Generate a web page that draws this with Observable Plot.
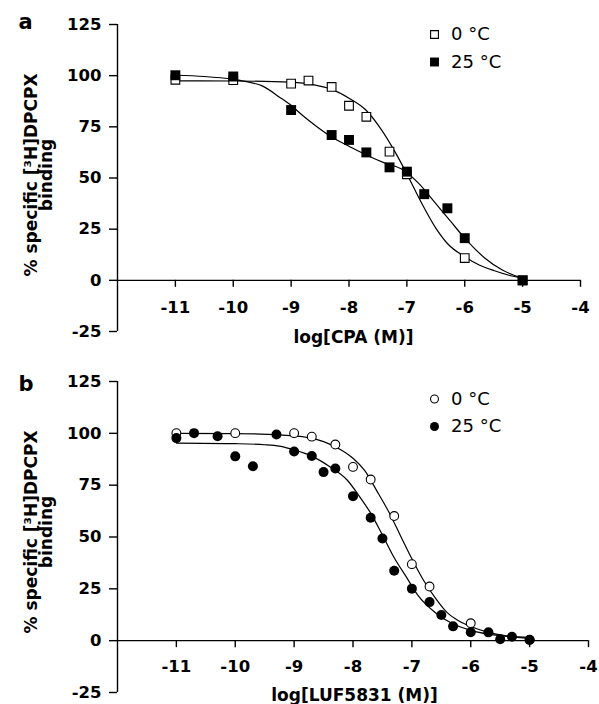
<!DOCTYPE html>
<html><head><meta charset="utf-8">
<script src="https://cdn.jsdelivr.net/npm/d3@7"></script>
<script src="https://cdn.jsdelivr.net/npm/@observablehq/plot@0.6"></script>
<style>
html,body{margin:0;padding:0;background:#fff;}
#fig{position:relative;width:599px;height:704px;overflow:hidden;}
#fig svg{position:absolute;left:0;}
</style></head><body><div id="fig"></div>
<script>
// ticks
const xTicks = [-11, -10, -9, -8, -7, -6, -5, -4];
const yTicks = [-25, 0, 25, 50, 75, 100, 125];
const legendLabels = ["0 \u00B0C", "25 \u00B0C"];
const yLabel = "% specific [\u00B3H]DPCPX\nbinding";

// panel a: CPA
const cpa0X = [-11, -10, -9, -8.7, -8.3, -8, -7.7, -7.3, -7, -6, -5];
const cpa0Y = [98, 97.8, 96.1, 97.6, 94.5, 85.3, 79.9, 62.9, 51.8, 10.9, 0];
const cpa25X = [-11, -10, -9, -8.3, -8, -7.7, -7.3, -7, -6.7, -6.3, -6, -5];
const cpa25Y = [100.2, 99.6, 83.2, 71, 68.6, 62.5, 55.2, 53.1, 42.1, 35.2, 20.6, 0];
const cpa0FitX = [-11, -10, -9, -8.6, -8.3, -8, -7.7, -7.45, -7.2, -7, -6.75, -6.5, -6.3, -6, -5.75, -5.5, -5.25, -5];
const cpa0FitY = [97.5, 97.4, 96.8, 95.5, 93.3, 89, 83, 74, 62.5, 52, 38, 25.5, 18, 11.5, 7.5, 4.8, 2.6, 1];
const cpa25FitX = [-11, -10.5, -10, -9.75, -9.5, -9.2, -9, -8.8, -8.6, -8.3, -8, -7.7, -7.4, -7.1, -6.8, -6.5, -6.25, -5.95, -5.65, -5.35, -5];
const cpa25FitY = [100.2, 99.6, 98.2, 97, 95, 89.5, 85.5, 80.5, 76, 70, 65.5, 61.2, 57.5, 54.5, 47.5, 37.5, 29, 19, 10.8, 5, 1];

// panel b: LUF5831
const luf0X = [-11, -10, -9, -8.7, -8.3, -8, -7.7, -7.3, -7, -6.7, -6, -5];
const luf0Y = [100.1, 100.1, 100.1, 98.4, 94.6, 83.8, 77.7, 60.1, 36.9, 26.1, 8.4, 0.5];
const luf25X = [-11, -10.7, -10.3, -10, -9.7, -9.3, -9, -8.7, -8.5, -8.3, -8, -7.7, -7.5, -7.3, -7, -6.7, -6.5, -6.3, -6, -5.7, -5.5, -5.3, -5];
const luf25Y = [97.7, 100.1, 98.6, 88.9, 84.1, 99.4, 91.2, 89.1, 81.3, 83, 69.7, 59.3, 49.3, 33.7, 25.1, 18.6, 12.4, 6.9, 4.1, 4.0, 0.7, 1.9, 0.3];
const luf0FitX = [-11, -10, -9, -8.5, -8.2, -8, -7.8, -7.6, -7.4, -7.2, -7, -6.8, -6.6, -6.4, -6.2, -6, -5.7, -5.4, -5];
const luf0FitY = [100, 99.9, 98.8, 96, 92, 88, 82, 72.5, 62.5, 51, 39.5, 29, 20.5, 13.5, 9.5, 6.8, 4, 2.3, 1];
const luf25FitX = [-11, -10, -9.5, -9.25, -9, -8.7, -8.4, -8.1, -7.9, -7.7, -7.5, -7.3, -7.1, -6.9, -6.6, -6.3, -6, -5.5, -5];
const luf25FitY = [95.3, 95, 94.5, 93.8, 92, 89, 84, 77.5, 70, 61.5, 51, 40, 31, 22, 13.5, 8, 5, 2.4, 1.5];

const pts = (xs, ys) => xs.map((x, i) => ({x, y: ys[i]}));
const FONT = "DejaVu Sans";

function panel(opts) {
  const {letter, xLabel, s0, s25, f0, f25, sym, margins, tickDy, xLabelDx, xLabelDy, yLabelDy, letterDy, legendDy, r0, r25} = opts;
  return Plot.plot({
    width: 599, height: 352,
    marginLeft: margins[0], marginRight: margins[1], marginTop: margins[2], marginBottom: margins[3],
    x: {domain: [-12, -4], axis: null},
    y: {domain: [-25, 125]},
    style: {fontFamily: FONT, fontSize: "16.5px", fontWeight: "bold", color: "black", background: "white", overflow: "visible"},
    marks: [
      Plot.ruleX([-12], {stroke: "black", strokeWidth: 1.4}),
      Plot.ruleY([0], {stroke: "black", strokeWidth: 1.4}),
      Plot.axisY({ticks: yTicks, tickSize: 8, tickPadding: 8, tickFormat: d => String(d), label: null, fontSize: 16.5, fontWeight: "bold", strokeWidth: 1.4}),
      Plot.ruleX(xTicks, {x: d => d, y1: 0, y2: 0, insetBottom: -7, stroke: "black", strokeWidth: 1.4}),
      Plot.text(xTicks, {x: d => d, y: 0, dy: tickDy, text: d => String(d), fontSize: 16.5, fontWeight: "bold", lineAnchor: "middle"}),
      Plot.text([xLabel], {frameAnchor: "bottom", textAnchor: "middle", dx: xLabelDx, dy: xLabelDy, fontSize: 17, fontWeight: "bold", lineAnchor: "middle"}),
      Plot.text([yLabel], {frameAnchor: "left", textAnchor: "middle", rotate: -90, dx: -78, dy: yLabelDy, fontSize: 17, fontWeight: "bold", lineAnchor: "middle", lineHeight: 0.93}),
      Plot.text([letter], {frameAnchor: "top-left", dx: -99, dy: letterDy, fontSize: 21, fontWeight: "bold", textAnchor: "start", lineAnchor: "middle"}),
      Plot.line(f0, {x: "x", y: "y", curve: "monotone-x", stroke: "black", strokeWidth: 1.2}),
      Plot.line(f25, {x: "x", y: "y", curve: "monotone-x", stroke: "black", strokeWidth: 1.2}),
      Plot.dot(s0, {x: "x", y: "y", symbol: sym, r: r0, fill: "white", stroke: "black", strokeWidth: 1.1}),
      Plot.dot(s25, {x: "x", y: "y", symbol: sym, r: r25, fill: "black", stroke: "black", strokeWidth: 0}),
      // legend
      Plot.dot([legendLabels[0]], {frameAnchor: "top-left", dx: 317, dy: legendDy[0], symbol: sym, r: r0 * 0.9, fill: "white", stroke: "black", strokeWidth: 1.1}),
      Plot.dot([legendLabels[1]], {frameAnchor: "top-left", dx: 317, dy: legendDy[1], symbol: sym, r: r25 * 0.9, fill: "black", strokeWidth: 0}),
      Plot.text([legendLabels[0]], {frameAnchor: "top-left", dx: 333.5, dy: legendDy[0], fontSize: 18, fontWeight: "normal", textAnchor: "start", lineAnchor: "middle"}),
      Plot.text([legendLabels[1]], {frameAnchor: "top-left", dx: 333.5, dy: legendDy[1], fontSize: 18, fontWeight: "normal", textAnchor: "start", lineAnchor: "middle"})
    ]
  });
}

const fig = document.getElementById("fig");
const a = panel({
  letter: "a", xLabel: "log[CPA (M)]",
  s0: pts(cpa0X, cpa0Y), s25: pts(cpa25X, cpa25Y), f0: pts(cpa0FitX, cpa0FitY), f25: pts(cpa25FitX, cpa25FitY),
  sym: "square", margins: [117, 19, 24, 21], tickDy: 27, xLabelDx: 4.5, xLabelDy: 6, yLabelDy: -3, letterDy: -2.7,
  legendDy: [10, 37.5], r0: 4.9, r25: 5.6
});
a.style.top = "0px";
fig.appendChild(a);
const b = panel({
  letter: "b", xLabel: "log[LUF5831 (M)]",
  s0: pts(luf0X, luf0Y), s25: pts(luf25X, luf25Y), f0: pts(luf0FitX, luf0FitY), f25: pts(luf25FitX, luf25FitY),
  sym: "circle", margins: [117, 11, 29, 12], tickDy: 26, xLabelDx: 1.5, xLabelDy: 3, yLabelDy: -5, letterDy: 2.3,
  legendDy: [17.5, 45], r0: 4.4, r25: 5
});
b.style.top = "352px";
fig.appendChild(b);
</script></body></html>
